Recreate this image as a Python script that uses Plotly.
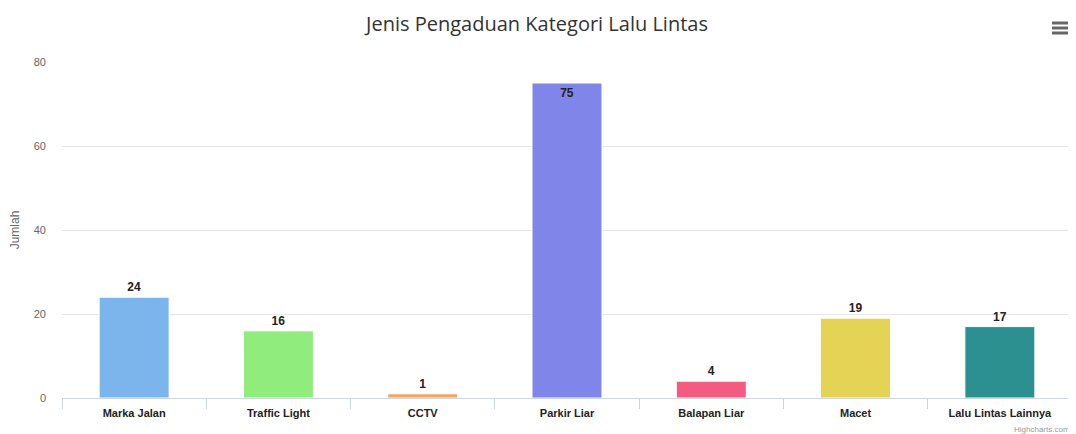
import plotly.graph_objects as go

categories = ["Marka Jalan", "Traffic Light", "CCTV", "Parkir Liar", "Balapan Liar", "Macet", "Lalu Lintas Lainnya"]
values = [24, 16, 1, 75, 4, 19, 17]
colors = ["#7cb5ec", "#90ed7d", "#f7a35c", "#8085e9", "#f15c80", "#e4d354", "#2b908f"]
y_ticks = [0, 20, 40, 60, 80]

positions = ["inside" if v > 70 else "outside" for v in values]

# page has an 8px body margin, so the figure is sized/margined to compensate
W, H = 1068, 426
L, R, T, B = 54, 4, 54, 36
PW, PH = W - L - R, H - T - B

fig = go.Figure(go.Bar(
    x=categories, y=values,
    marker=dict(color=colors, line=dict(color="white", width=1)),
    text=[str(v) for v in values],
    textposition=positions,
    insidetextanchor="end",
    textfont=dict(family="Liberation Sans", size=12, color="#222", weight="bold"),
    cliponaxis=False,
))

fig.update_layout(
    width=W, height=H,
    margin=dict(l=L, r=R, t=T, b=B, pad=0),
    paper_bgcolor="white", plot_bgcolor="white",
    bargap=0.515,
    showlegend=False,
    title=dict(text="Jenis Pengaduan Kategori Lalu Lintas", x=529 / W, xref="container", xanchor="center",
               y=1 - 16 / H, yanchor="middle",
               font=dict(family="Open Sans", size=20, color="#333")),
    font=dict(family="Liberation Sans"),
)
fig.update_yaxes(range=[0, 80], tickvals=y_ticks, showgrid=True, gridcolor="#e6e6e6",
                 zeroline=False, showline=False, automargin=False,
                 tickfont=dict(size=11, color="#666"), ticks="", ticklabelstandoff=15,
                 title=dict(text="Jumlah", font=dict(size=12, color="#666"), standoff=12))
fig.update_xaxes(showline=True, linecolor="#ccd6eb", ticks="outside", tickson="boundaries",
                 tickcolor="#ccd6eb", ticklen=10, automargin=False, ticklabelstandoff=5,
                 tickfont=dict(size=11, color="#222", weight="bold"))

# menu icon
for dy in [0, 5, 10]:
    yy = (H - B - (15 + dy)) / PH
    fig.add_shape(type="line", xref="paper", yref="paper",
                  x0=(1044 - L) / PW, x1=(1060 - L) / PW,
                  y0=yy, y1=yy,
                  line=dict(color="#666", width=3))
fig.add_annotation(text="Highcharts.com", xref="paper", yref="paper", x=1, y=-25 / PH,
                   xanchor="right", yanchor="top", showarrow=False,
                   font=dict(size=8, color="#999"))

fig.write_html("out.html")
